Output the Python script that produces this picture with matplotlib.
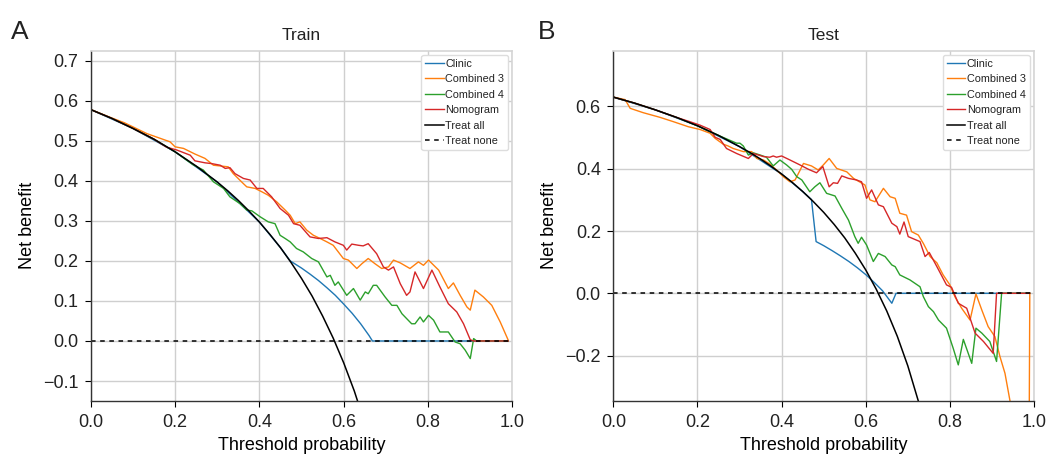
import matplotlib
matplotlib.use("Agg")
import matplotlib.pyplot as plt

plt.rcParams['font.family'] = ['Liberation Sans', 'DejaVu Sans']
plt.rcParams['axes.unicode_minus'] = True
plt.rcParams['text.color'] = '#222222'
plt.rcParams['xtick.labelcolor'] = '#222222'
plt.rcParams['ytick.labelcolor'] = '#222222'

# ---- Train (A) ----
train_all_t = [0, 0.05, 0.1, 0.15, 0.2, 0.25, 0.3, 0.325, 0.35, 0.375, 0.4, 0.425, 0.45, 0.475,
               0.5, 0.525, 0.55, 0.575, 0.6, 0.625, 0.65]
train_all_v = [0.578, 0.556, 0.531, 0.504, 0.4725, 0.437, 0.397, 0.375, 0.351, 0.325, 0.297, 0.266,
               0.233, 0.196, 0.156, 0.112, 0.062, 0.007, -0.055, -0.125, -0.206]

train_clinic_t = [0, 0.1, 0.2, 0.3, 0.4, 0.45, 0.473, 0.5, 0.52, 0.54, 0.56, 0.58, 0.6, 0.62,
                  0.64, 0.66, 0.668, 0.99]
train_clinic_v = [0.578, 0.531, 0.4725, 0.397, 0.297, 0.233, 0.2, 0.182, 0.167, 0.151, 0.133, 0.114,
                  0.092, 0.069, 0.043, 0.0135, 0.0, 0.0]

train_comb3_t = [0, 0.05, 0.08, 0.133, 0.188, 0.2, 0.22, 0.247, 0.271, 0.291, 0.326, 0.338, 0.362,
                 0.37, 0.39, 0.406, 0.421, 0.441, 0.461, 0.473, 0.485, 0.496, 0.512, 0.528, 0.544,
                 0.56, 0.575, 0.587, 0.599, 0.611, 0.631, 0.643, 0.658, 0.674, 0.69, 0.706, 0.718,
                 0.734, 0.757, 0.777, 0.789, 0.801, 0.825, 0.848, 0.86, 0.876, 0.892, 0.9, 0.911,
                 0.931, 0.951, 0.971, 0.99]
train_comb3_v = [0.578, 0.557, 0.545, 0.518, 0.4975, 0.485, 0.481, 0.467, 0.456, 0.439, 0.435, 0.418,
                 0.393, 0.385, 0.381, 0.3725, 0.364, 0.3475, 0.327, 0.314, 0.293, 0.2975, 0.277,
                 0.264, 0.256, 0.2475, 0.239, 0.2225, 0.206, 0.202, 0.181, 0.193, 0.206, 0.193,
                 0.181, 0.185, 0.202, 0.195, 0.181, 0.1975, 0.189, 0.202, 0.177, 0.131, 0.145,
                 0.114, 0.085, 0.077, 0.127, 0.11, 0.089, 0.0475, 0.002]

train_comb4_t = [0, 0.05, 0.1, 0.15, 0.2, 0.243, 0.267, 0.291, 0.315, 0.33, 0.354, 0.37, 0.382,
                 0.402, 0.421, 0.437, 0.449, 0.461, 0.473, 0.488, 0.504, 0.524, 0.54, 0.56, 0.568,
                 0.579, 0.587, 0.607, 0.623, 0.639, 0.651, 0.658, 0.67, 0.678, 0.698, 0.714, 0.726,
                 0.738, 0.749, 0.761, 0.769, 0.781, 0.789, 0.801, 0.813, 0.828, 0.848, 0.864,
                 0.876, 0.888, 0.9, 0.908, 0.915, 0.99]
train_comb4_v = [0.578, 0.556, 0.531, 0.504, 0.4725, 0.44, 0.427, 0.3975, 0.381, 0.36, 0.343, 0.327,
                 0.325, 0.31, 0.2975, 0.293, 0.264, 0.256, 0.2475, 0.231, 0.2225, 0.206, 0.1975,
                 0.16, 0.164, 0.139, 0.1475, 0.114, 0.131, 0.102, 0.1225, 0.118, 0.139, 0.139,
                 0.11, 0.089, 0.089, 0.068, 0.056, 0.043, 0.043, 0.06, 0.0475, 0.064, 0.052,
                 0.0225, 0.0225, -0.0025, -0.007, -0.023, -0.044, 0.006, 0.0, 0.0]

train_nomo_t = [0, 0.05, 0.1, 0.15, 0.18, 0.204, 0.236, 0.247, 0.271, 0.287, 0.307, 0.319, 0.33,
                0.342, 0.362, 0.378, 0.394, 0.409, 0.429, 0.449, 0.469, 0.481, 0.496, 0.52, 0.54,
                0.56, 0.579, 0.599, 0.607, 0.619, 0.635, 0.646, 0.658, 0.678, 0.694, 0.706, 0.718,
                0.734, 0.749, 0.757, 0.769, 0.789, 0.809, 0.828, 0.848, 0.868, 0.884, 0.9, 0.908,
                0.99]
train_nomo_v = [0.578, 0.556, 0.531, 0.504, 0.484, 0.477, 0.464, 0.45, 0.445, 0.443, 0.439, 0.431,
                0.433, 0.418, 0.406, 0.402, 0.381, 0.381, 0.36, 0.331, 0.314, 0.293, 0.289, 0.26,
                0.256, 0.258, 0.2475, 0.239, 0.227, 0.242, 0.239, 0.2375, 0.243, 0.218, 0.185,
                0.177, 0.185, 0.143, 0.114, 0.1225, 0.1725, 0.131, 0.177, 0.135, 0.093, 0.0725,
                0.043, 0.003, 0.0, 0.0]

# ---- Test (B) ----
test_all_t = [0, 0.05, 0.1, 0.15, 0.2, 0.25, 0.3, 0.325, 0.35, 0.375, 0.4, 0.425, 0.45, 0.475,
              0.5, 0.525, 0.55, 0.575, 0.6, 0.625, 0.65, 0.675, 0.7, 0.725, 0.75]
test_all_v = [0.63, 0.611, 0.589, 0.565, 0.538, 0.507, 0.471, 0.452, 0.431, 0.408, 0.383, 0.3565,
              0.327, 0.295, 0.26, 0.221, 0.178, 0.129, 0.075, 0.013, -0.057, -0.138, -0.233,
              -0.346, -0.48]

test_clinic_t = [0, 0.1, 0.2, 0.3, 0.4, 0.45, 0.471, 0.482, 0.5, 0.52, 0.54, 0.56, 0.58, 0.6,
                 0.62, 0.64, 0.662, 0.672, 0.99]
test_clinic_v = [0.63, 0.589, 0.538, 0.471, 0.383, 0.327, 0.301, 0.166, 0.153, 0.137, 0.12, 0.102,
                 0.082, 0.06, 0.035, 0.008, -0.032, 0.0, 0.0]

test_comb3_t = [0, 0.028, 0.04, 0.071, 0.111, 0.143, 0.178, 0.206, 0.23, 0.242, 0.261, 0.273,
                0.285, 0.309, 0.329, 0.341, 0.357, 0.372, 0.388, 0.404, 0.42, 0.432, 0.44, 0.452,
                0.471, 0.487, 0.499, 0.513, 0.531, 0.555, 0.571, 0.598, 0.61, 0.622, 0.642, 0.658,
                0.67, 0.681, 0.697, 0.709, 0.725, 0.737, 0.753, 0.769, 0.784, 0.8, 0.812, 0.828,
                0.848, 0.862, 0.876, 0.891, 0.907, 0.919, 0.931, 0.943, 0.955, 0.97, 0.98, 0.99]
test_comb3_v = [0.63, 0.622, 0.594, 0.58, 0.565, 0.551, 0.535, 0.526, 0.514, 0.4975, 0.479, 0.473,
                0.465, 0.455, 0.455, 0.433, 0.428, 0.415, 0.396, 0.3745, 0.358, 0.364, 0.385,
                0.417, 0.409, 0.396, 0.412, 0.433, 0.401, 0.39, 0.369, 0.348, 0.3, 0.294, 0.337,
                0.31, 0.305, 0.257, 0.251, 0.198, 0.187, 0.16, 0.118, 0.098, 0.059, 0.027, -0.011,
                -0.048, -0.086, -0.002, -0.054, -0.107, -0.139, -0.203, -0.257, -0.346, -0.5,
                -0.9, -3.0, 0.0]

test_comb4_t = [0, 0.05, 0.1, 0.15, 0.2, 0.25, 0.293, 0.301, 0.309, 0.321, 0.333, 0.349, 0.364,
                0.38, 0.396, 0.412, 0.424, 0.436, 0.448, 0.467, 0.479, 0.491, 0.507, 0.527, 0.543,
                0.559, 0.574, 0.582, 0.59, 0.602, 0.618, 0.63, 0.646, 0.662, 0.67, 0.681, 0.705,
                0.729, 0.737, 0.749, 0.761, 0.773, 0.792, 0.808, 0.82, 0.832, 0.852, 0.862, 0.876,
                0.895, 0.911, 0.923, 0.99]
test_comb4_v = [0.63, 0.611, 0.589, 0.565, 0.538, 0.507, 0.482, 0.482, 0.473, 0.444, 0.451, 0.444,
                0.437, 0.409, 0.428, 0.412, 0.398, 0.3745, 0.364, 0.326, 0.342, 0.355, 0.321,
                0.3125, 0.273, 0.235, 0.182, 0.1605, 0.18, 0.155, 0.102, 0.128, 0.118, 0.091,
                0.0855, 0.059, 0.043, 0.021, -0.011, -0.043, -0.059, -0.086, -0.112, -0.177,
                -0.23, -0.148, -0.225, -0.112, -0.128, -0.155, -0.219, 0.0, 0.0]

test_nomo_t = [0, 0.05, 0.1, 0.15, 0.182, 0.206, 0.23, 0.242, 0.254, 0.269, 0.293, 0.321, 0.333,
               0.345, 0.357, 0.372, 0.38, 0.388, 0.4, 0.42, 0.444, 0.464, 0.483, 0.498, 0.513,
               0.523, 0.533, 0.543, 0.559, 0.578, 0.59, 0.602, 0.614, 0.63, 0.642, 0.662, 0.674,
               0.681, 0.691, 0.701, 0.729, 0.741, 0.751, 0.769, 0.792, 0.804, 0.82, 0.84, 0.86,
               0.88, 0.903, 0.911, 0.99]
test_nomo_v = [0.63, 0.611, 0.589, 0.565, 0.551, 0.54, 0.526, 0.501, 0.494, 0.465, 0.449, 0.433,
               0.449, 0.444, 0.439, 0.437, 0.441, 0.437, 0.441, 0.428, 0.412, 0.398, 0.387, 0.407,
               0.342, 0.355, 0.353, 0.377, 0.369, 0.364, 0.358, 0.305, 0.332, 0.284, 0.278, 0.225,
               0.214, 0.19, 0.229, 0.182, 0.166, 0.118, 0.131, 0.086, 0.027, 0.019, -0.032,
               -0.048, -0.128, -0.155, -0.193, 0.0, 0.0]

none_t = [0, 1]
none_v = [0, 0]

train_yticks = [-0.1, 0.0, 0.1, 0.2, 0.3, 0.4, 0.5, 0.6, 0.7]
test_yticks = [-0.2, 0.0, 0.2, 0.4, 0.6]
xticks = [0.0, 0.2, 0.4, 0.6, 0.8, 1.0]


def draw_panel(ax, title, clinic, comb3, comb4, nomo, treat_all, ylim, yticks):
    ax.plot(*clinic, color='#1f77b4', lw=1.0, label='Clinic')
    ax.plot(*comb3, color='#ff7f0e', lw=1.0, label='Combined 3')
    ax.plot(*comb4, color='#2ca02c', lw=1.0, label='Combined 4')
    ax.plot(*nomo, color='#d62728', lw=1.0, label='Nomogram')
    ax.plot(*treat_all, color='black', lw=1.1, label='Treat all')
    ax.plot(none_t, none_v, color='black', lw=1.1, ls=(0, (3, 3)), label='Treat none')
    ax.set_xlim(0, 1)
    ax.set_ylim(*ylim)
    ax.set_xticks(xticks)
    ax.set_yticks(yticks)
    ax.set_xticklabels([f'{x:.1f}' for x in xticks])
    ax.set_yticklabels([f'{y:.1f}'.replace('-', '\u2212') for y in yticks])
    ax.grid(True, color='#cfcfcf', lw=1.0)
    ax.set_axisbelow(True)
    for s in ['top', 'right']:
        ax.spines[s].set_color('#d5d5d5')
        ax.spines[s].set_linewidth(1.2)
    for s in ['left', 'bottom']:
        ax.spines[s].set_color('#333333')
        ax.spines[s].set_linewidth(1.0)
    ax.tick_params(direction='out', length=4, width=0.8, labelsize=13, pad=5)
    ax.set_xlabel('Threshold probability', fontsize=13, labelpad=5)
    ax.set_ylabel('Net benefit', fontsize=13, labelpad=5)
    ax.set_title(title, fontsize=12.5, pad=8)
    leg = ax.legend(loc='upper right', fontsize=7.8, handlelength=1.7, handletextpad=0.15,
                    borderpad=0.35, borderaxespad=0.4, labelspacing=0.5, framealpha=1.0,
                    fancybox=True)
    leg.get_frame().set_edgecolor('#dddddd')


fig = plt.figure(figsize=(10.49, 4.57), dpi=100)
ax1 = fig.add_axes([0.0865, 0.1225, 0.402, 0.7665])
ax2 = fig.add_axes([0.5847, 0.1225, 0.401, 0.7665])

draw_panel(ax1, 'Train', (train_clinic_t, train_clinic_v), (train_comb3_t, train_comb3_v),
           (train_comb4_t, train_comb4_v), (train_nomo_t, train_nomo_v),
           (train_all_t, train_all_v), (-0.15, 0.725), train_yticks)
draw_panel(ax2, 'Test', (test_clinic_t, test_clinic_v), (test_comb3_t, test_comb3_v),
           (test_comb4_t, test_comb4_v), (test_nomo_t, test_nomo_v),
           (test_all_t, test_all_v), (-0.346, 0.779), test_yticks)

fig.text(0.010, 0.915, 'A', fontsize=19)
fig.text(0.513, 0.915, 'B', fontsize=19)

fig.savefig('out.png', dpi=100)
